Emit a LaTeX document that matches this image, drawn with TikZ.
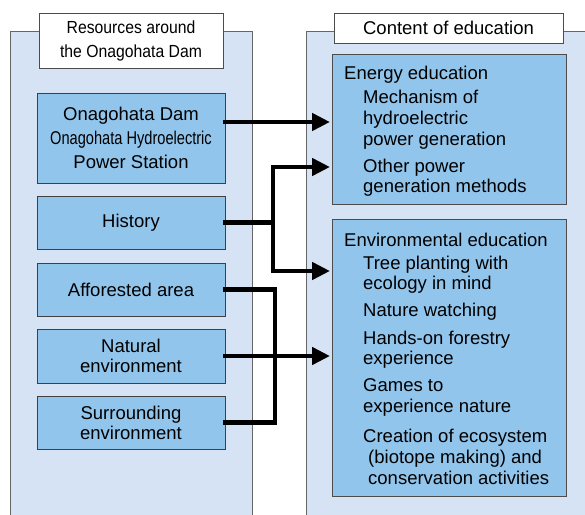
\documentclass[tikz,border=0pt]{standalone}
\usepackage{fontspec}
\setmainfont{Liberation Sans}
\newfontfamily\narrowfont[FakeStretch=0.9]{Liberation Sans}
\newfontfamily\narrowerfont[FakeStretch=0.79]{Liberation Sans}
\usepackage{tikz}
\usetikzlibrary{arrows.meta}

\definecolor{panelblue}{RGB}{213,227,245}
\definecolor{boxblue}{RGB}{146,197,236}

\begin{document}
\begin{tikzpicture}[x=1pt,y=-1pt,>={Triangle[length=18pt,width=17pt]},
                        panel/.style={draw=gray!80!black,fill=panelblue,line width=0.8pt},
                        titlebox/.style={draw=gray!60!black,fill=white,line width=0.8pt,inner sep=0pt},
                        resbox/.style={draw=black!75,fill=boxblue,line width=0.8pt,minimum width=188pt,
                                       inner sep=0pt,align=center,font=\fontsize{18.5}{24}\selectfont},
                        edubox/.style={draw=black!70,fill=boxblue,line width=0.8pt,minimum width=234pt,inner sep=0pt},
                        item/.style={anchor=west,inner sep=0pt,align=left,font=\fontsize{18.5}{21}\selectfont},
                        wire/.style={line width=4.5pt,line cap=rect}]

        \useasboundingbox (0,0) rectangle (585,514);
        \clip (0,0) rectangle (585,514);

        % the two panels
        \draw[panel] (10,31) rectangle (252,540);
        \draw[panel] (306,31) rectangle (600,540);

        \node[titlebox,minimum width=184pt,minimum height=55pt,align=center,
              font=\narrowfont\fontsize{17.5}{24}\selectfont] (restitle) at (131,40.5)
              {Resources around\\the Onagohata Dam};
        \node[titlebox,minimum width=229pt,minimum height=30pt,
              font=\fontsize{18.5}{22}\selectfont] (edutitle) at (448.5,28) {Content of education};

        % resources
        \node[resbox,minimum height=90pt] (dam) at (131,138)
              {Onagohata Dam\\{\narrowerfont Onagohata Hydroelectric}\\Power Station};
        \node[resbox,minimum height=53pt] (history) at (131,222.5) {History};
        \node[resbox,minimum height=53pt] (forest) at (131,289.5) {Afforested area};
        \node[resbox,minimum height=54pt,font=\fontsize{18.5}{20}\selectfont] (natural) at (131,356)
              {Natural\\environment};
        \node[resbox,minimum height=53pt,font=\fontsize{18.5}{20}\selectfont] (surround) at (131,422.5)
              {Surrounding\\environment};

        % content of education
        \node[edubox,minimum height=150pt] (energy) at (449,129) {};
        \node[edubox,minimum height=277pt] (environment) at (449,357.5) {};

        \node[item] (energyhead) at (344,75) {Energy education};
        \node[item] (mechanism) at (363,120) {Mechanism of\\hydroelectric\\power generation};
        \node[item,font=\fontsize{18.5}{20}\selectfont] (othergen) at (363,178)
              {Other power\\generation methods};

        \node[item] (envhead) at (344,240) {Environmental education};
        \node[item,font=\fontsize{18.5}{20}\selectfont] (treeplant) at (363,275)
              {Tree planting with\\ecology in mind};
        \node[item] (watching) at (363,312) {Nature watching};
        \node[item,font=\fontsize{18.5}{20}\selectfont] (forestry) at (363,350)
              {Hands-on forestry\\experience};
        \node[item] (games) at (363,397.5) {Games to\\experience nature};
        \node[item] (ecosystem) at (363,457)
              {Creation of ecosystem\\\hspace*{5pt}(biotope making) and\\\hspace*{5pt}conservation activities};

        % arrow ends and buses
        \coordinate (in1) at (330,122);
        \coordinate (in2) at (330,167);
        \coordinate (in3) at (330,271);
        \coordinate (in4) at (330,356);
        \coordinate (busA) at (273,222);
        \coordinate (busB) at (275,356);

        \draw[wire,->] (dam.east |- in1) -- (in1);
        \draw[wire] (history.east) -- (history.east -| busA);
        \draw[wire] (busA |- in2) -- (busA |- in3);
        \draw[wire,->] (busA |- in2) -- (in2);
        \draw[wire,->] (busA |- in3) -- (in3);
        \draw[wire] (forest.east) -| (busB) |- (surround.east);
        \draw[wire,->] (natural.east) -- (in4);
    \end{tikzpicture}
\end{document}
